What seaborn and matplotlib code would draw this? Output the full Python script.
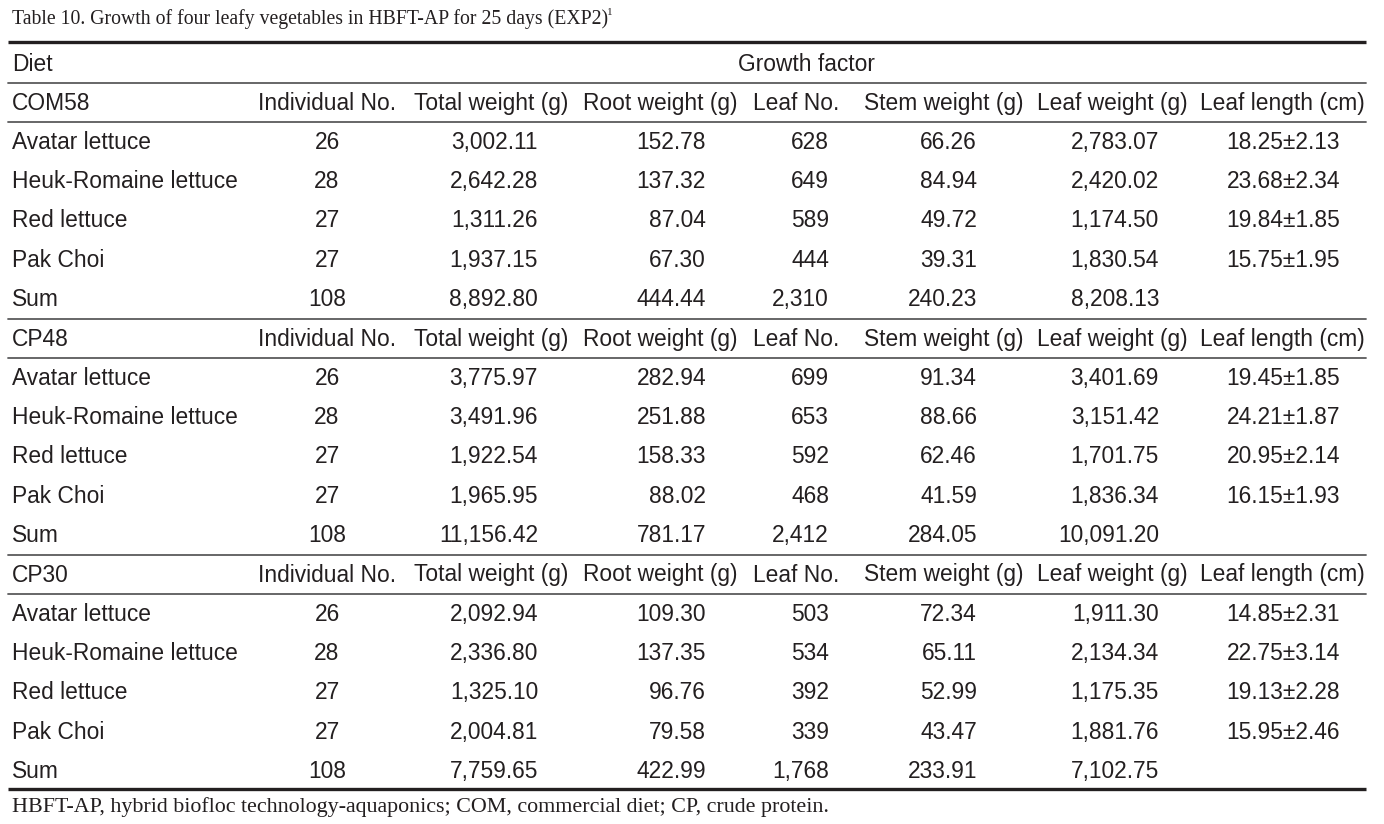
import numpy as np
import matplotlib.pyplot as plt
import seaborn as sns

sns.set_theme(style="white")
plt.rcParams['font.family'] = ['Liberation Sans', 'DejaVu Sans']

diets = ["COM58", "CP48", "CP30"]
plants = ["Avatar lettuce", "Heuk-Romaine lettuce", "Red lettuce", "Pak Choi"]
columns = ["Individual No.", "Total weight (g)", "Root weight (g)", "Leaf No.",
           "Stem weight (g)", "Leaf weight (g)", "Leaf length (cm)"]

individual_no = [26, 28, 27, 27]
total_weight = [[3002.11, 2642.28, 1311.26, 1937.15],
                [3775.97, 3491.96, 1922.54, 1965.95],
                [2092.94, 2336.80, 1325.10, 2004.81]]
root_weight = [[152.78, 137.32, 87.04, 67.30],
               [282.94, 251.88, 158.33, 88.02],
               [109.30, 137.35, 96.76, 79.58]]
leaf_no = [[628, 649, 589, 444],
           [699, 653, 592, 468],
           [503, 534, 392, 339]]
stem_weight = [[66.26, 84.94, 49.72, 39.31],
               [91.34, 88.66, 62.46, 41.59],
               [72.34, 65.11, 52.99, 43.47]]
leaf_weight = [[2783.07, 2420.02, 1174.50, 1830.54],
               [3401.69, 3151.42, 1701.75, 1836.34],
               [1911.30, 2134.34, 1175.35, 1881.76]]
leaf_length = [[18.25, 23.68, 19.84, 15.75],
               [19.45, 24.21, 20.95, 16.15],
               [14.85, 22.75, 19.13, 15.95]]
leaf_length_sd = [[2.13, 2.34, 1.85, 1.95],
                  [1.85, 1.87, 2.14, 1.93],
                  [2.31, 3.14, 2.28, 2.46]]
sum_individual = [108, 108, 108]
sum_total = [8892.80, 11156.42, 7759.65]
sum_root = [444.44, 781.17, 422.99]
sum_leaf_no = [2310, 2412, 1768]
sum_stem = [240.23, 284.05, 233.91]
sum_leaf_weight = [8208.13, 10091.20, 7102.75]

fig = plt.figure(figsize=(13.84, 8.24), dpi=100)
ax = fig.add_axes([0, 0, 1, 1])
ax.set_xlim(0, 1384)
ax.set_ylim(824, 0)
ax.axis("off")

fs = 16.4
col = "#231f20"
rule = "#5a5a5c"
serif = ['Liberation Serif', 'DejaVu Serif']

# header centres and value right edges
head_x = [327, 491, 660, 796, 944, 1112, 1282]
val_x = [327, 538, 706, 829, 977, 1159, 1340]
val_ha = ["center", "right", "right", "right", "right", "right", "right"]

ax.text(12, 19, "Table 10. Growth of four leafy vegetables in HBFT-AP for 25 days (EXP2)",
        family=serif, fontsize=14.2, color=col, va="center", ha="left")
ax.text(607, 12, "1", family=serif, fontsize=8, color=col, va="center", ha="left")

x0, x1 = 8, 1366
ax.plot([x0, x1], [42, 42], color=col, lw=2.4, solid_capstyle="butt")
ax.plot([x0, x1], [789, 789], color=col, lw=2.4, solid_capstyle="butt")

ax.text(12, 64, "Diet", fontsize=fs, color=col, va="center")
ax.text(806, 64, "Growth factor", fontsize=fs, color=col, va="center", ha="center")
ax.plot([x0, x1], [83, 83], color=rule, lw=1.3)


def f2(v):
    return f"{v:,.2f}"


block_top = [103, 339, 575]
step = 39.3
for d, diet in enumerate(diets):
    y = block_top[d]
    ax.text(12, y, diet, fontsize=fs, color=col, va="center")
    for j, name in enumerate(columns):
        ax.text(head_x[j], y, name, fontsize=fs, color=col, va="center", ha="center")
    ax.plot([x0, x1], [y + 19, y + 19], color=rule, lw=1.3)
    for i, p in enumerate(plants):
        yy = y + step * (i + 1)
        vals = [str(individual_no[i]), f2(total_weight[d][i]), f2(root_weight[d][i]),
                f"{leaf_no[d][i]:,}", f2(stem_weight[d][i]), f2(leaf_weight[d][i]),
                f"{leaf_length[d][i]:.2f}±{leaf_length_sd[d][i]:.2f}"]
        ax.text(12, yy, p, fontsize=fs, color=col, va="center")
        for j, v in enumerate(vals):
            ax.text(val_x[j], yy, v, fontsize=fs, color=col, va="center", ha=val_ha[j])
    yy = y + step * 5
    vals = [str(sum_individual[d]), f2(sum_total[d]), f2(sum_root[d]),
            f"{sum_leaf_no[d]:,}", f2(sum_stem[d]), f2(sum_leaf_weight[d])]
    ax.text(12, yy, "Sum", fontsize=fs, color=col, va="center")
    for j, v in enumerate(vals):
        ax.text(val_x[j], yy, v, fontsize=fs, color=col, va="center", ha=val_ha[j])
    if d < 2:
        ax.plot([x0, x1], [yy + 19, yy + 19], color=rule, lw=1.3)

ax.text(12, 807, "HBFT-AP, hybrid biofloc technology-aquaponics; COM, commercial diet; CP, crude protein.",
        family=serif, fontsize=15.8, color=col, va="center", ha="left")

fig.savefig("out.png", dpi=100)
